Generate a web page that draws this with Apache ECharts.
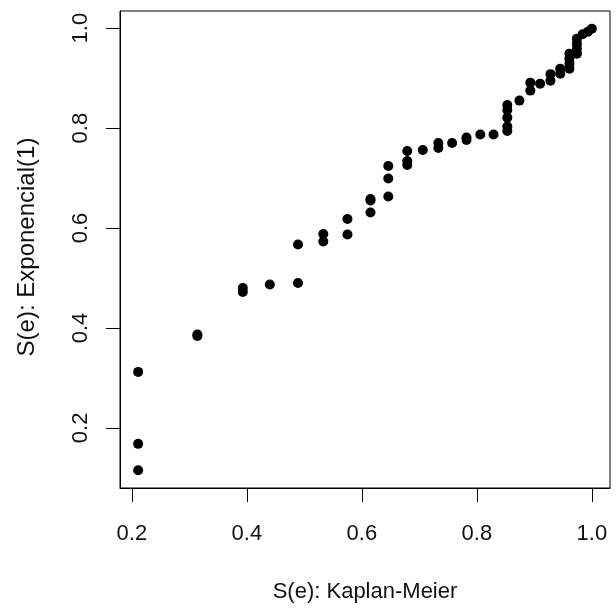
<!DOCTYPE html>
<html>
<head>
<meta charset="utf-8">
<script src="https://cdn.jsdelivr.net/npm/echarts@6/dist/echarts.min.js"></script>
<style>
  html, body { margin: 0; padding: 0; background: #fff; }
  #chart { width: 616px; height: 608px; }
</style>
</head>
<body>
<div id="chart"></div>
<script>
// Survival estimates: Kaplan-Meier (x) against the fitted Exponential(1) model (y)
const kmSurvival = [
  0.211, 0.211, 0.211,
  0.314, 0.314,
  0.393, 0.393,
  0.440,
  0.489, 0.489,
  0.533, 0.533,
  0.575, 0.575,
  0.615, 0.615, 0.615,
  0.646, 0.646, 0.646,
  0.679, 0.679, 0.679,
  0.706,
  0.733, 0.733,
  0.757,
  0.782, 0.782,
  0.806,
  0.829,
  0.853, 0.853, 0.853, 0.853, 0.853,
  0.874,
  0.893, 0.893,
  0.910,
  0.928, 0.928,
  0.945, 0.945,
  0.961, 0.961, 0.961, 0.961,
  0.974, 0.974, 0.974, 0.974,
  0.984,
  0.993,
  1.000
];
const expSurvival = [
  0.312, 0.168, 0.115,
  0.387, 0.384,
  0.480, 0.472,
  0.487,
  0.490, 0.567,
  0.588, 0.573,
  0.618, 0.587,
  0.658, 0.655, 0.631,
  0.724, 0.699, 0.663,
  0.754, 0.734, 0.726,
  0.756,
  0.770, 0.760,
  0.770,
  0.781, 0.776,
  0.787,
  0.787,
  0.846, 0.836, 0.821, 0.803, 0.794,
  0.855,
  0.891, 0.875,
  0.889,
  0.908, 0.895,
  0.919, 0.909,
  0.949, 0.939, 0.929, 0.919,
  0.979, 0.969, 0.959, 0.949,
  0.988,
  0.993,
  0.999
];
const xTicks = [0.2, 0.4, 0.6, 0.8, 1.0];
const yTicks = [0.2, 0.4, 0.6, 0.8, 1.0];
const xTitle = 'S(e): Kaplan-Meier';
const yTitle = 'S(e): Exponencial(1)';

// Axis limits padded by 4% of the data range on each side
function padded(values) {
  const lo = Math.min(...values), hi = Math.max(...values);
  const pad = (hi - lo) * 0.04;
  return [lo - pad, hi + pad];
}
const [xMin, xMax] = padded(kmSurvival);
const [yMin, yMax] = padded(expSurvival);

const points = kmSurvival.map((x, i) => [x, expSurvival[i]]);
const font = 'Liberation Sans, Arial, sans-serif';
const ink = '#111';

const chart = echarts.init(document.getElementById('chart'), null, { renderer: 'canvas' });
chart.setOption({
  animation: false,
  backgroundColor: '#fff',
  grid: {
    left: 120, right: 6, top: 11, bottom: 115,
    show: true, borderColor: '#000', borderWidth: 1, backgroundColor: 'transparent'
  },
  xAxis: {
    type: 'value',
    min: xMin, max: xMax,
    name: xTitle,
    nameLocation: 'middle',
    nameGap: 93,
    nameTextStyle: { fontFamily: font, fontSize: 22, color: ink },
    axisLine: { show: true, lineStyle: { color: '#000', width: 1 } },
    axisTick: { show: true, inside: false, length: 14, customValues: xTicks, lineStyle: { color: '#000', width: 1 } },
    axisLabel: {
      customValues: xTicks, margin: 35, fontFamily: font, fontSize: 22, color: ink,
      formatter: v => v.toFixed(1)
    },
    splitLine: { show: false }
  },
  yAxis: {
    type: 'value',
    min: yMin, max: yMax,
    name: yTitle,
    nameLocation: 'middle',
    nameGap: 81,
    nameRotate: 90,
    nameTextStyle: { fontFamily: font, fontSize: 24, color: ink, padding: [0, 0, 0, 5] },
    axisLine: { show: true, lineStyle: { color: '#000', width: 1 } },
    axisTick: { show: true, inside: false, length: 14, customValues: yTicks, lineStyle: { color: '#000', width: 1 } },
    axisLabel: {
      customValues: yTicks, rotate: 90, margin: 28, fontFamily: font, fontSize: 22, color: ink,
      formatter: v => v.toFixed(1)
    },
    splitLine: { show: false }
  },
  series: [{
    type: 'scatter',
    data: points,
    symbol: 'circle',
    symbolSize: 10,
    itemStyle: { color: '#000', opacity: 1 },
    silent: true
  }]
});
</script>
</body>
</html>
